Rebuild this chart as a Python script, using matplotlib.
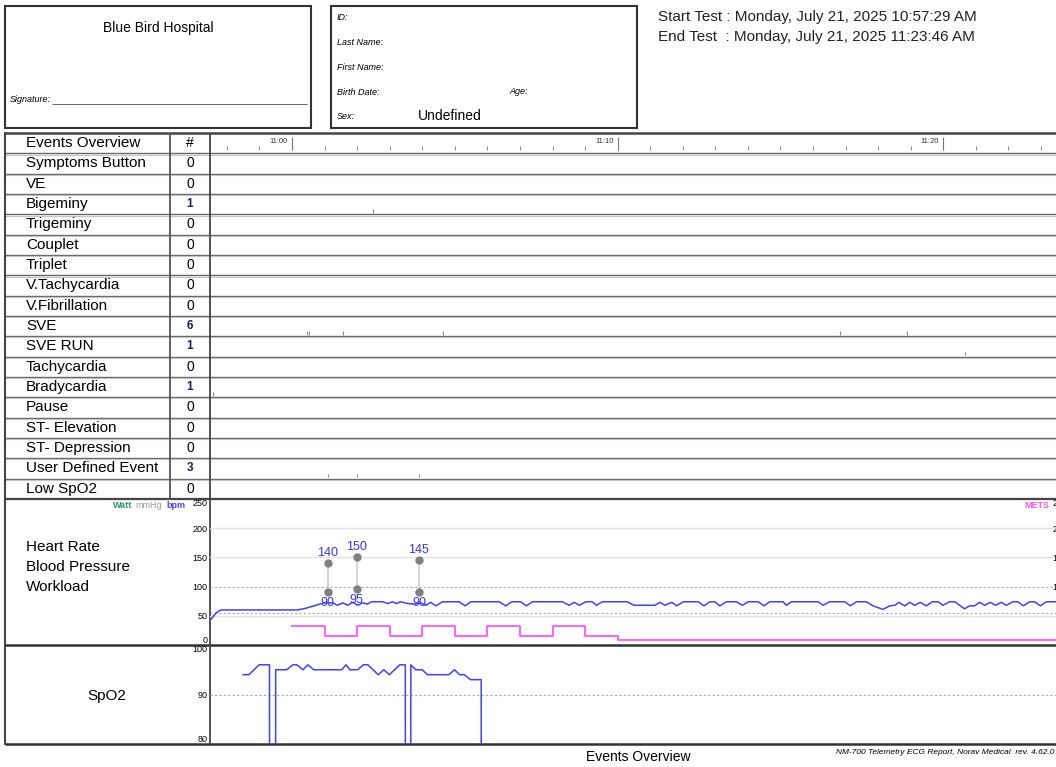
import numpy as np
import matplotlib
matplotlib.use('Agg')
import matplotlib.pyplot as plt
from matplotlib.patches import Rectangle

plt.rcParams['font.family'] = ['Liberation Sans', 'DejaVu Sans']

W, H = 1056, 767

# report header
hospital = 'Blue Bird Hospital'
start_test = 'Monday, July 21, 2025 10:57:29 AM'
end_test = 'Monday, July 21, 2025 11:23:46 AM'
patient_fields = ['ID:', 'Last Name:', 'First Name:', 'Birth Date:', 'Sex:']
sex = 'Undefined'

# time axis in minutes relative to 11:00
t_start = -(2 + 31 / 60)
t_end = 23 + 46 / 60
major_ticks = [0, 10, 20]
major_labels = ['11:00', '11:10', '11:20']

# events table
event_names = ['Symptoms Button', 'VE', 'Bigeminy', 'Trigeminy', 'Couplet', 'Triplet',
               'V.Tachycardia', 'V.Fibrillation', 'SVE', 'SVE RUN', 'Tachycardia',
               'Bradycardia', 'Pause', 'ST- Elevation', 'ST- Depression',
               'User Defined Event', 'Low SpO2']
event_counts = [0, 0, 1, 0, 0, 0, 0, 0, 6, 1, 0, 1, 0, 0, 0, 3, 0]
bigeminy_t = [2.48]
sve_t = [0.46, 0.52, 1.56, 4.63, 16.84, 18.87]
sve_run_t = [20.67]
brady_t = [-2.42]
user_t = [1.10, 1.99, 3.90]

# heart rate (bpm)
hr_t = [-2.50, -2.33, -2.18, 0.17, 0.43, 0.74, 0.98, 1.25, 1.40, 1.56, 1.71, 1.86, 2.02,
        2.17, 2.32, 2.44, 2.78, 2.94, 3.09, 3.21, 3.34, 3.55, 3.75, 3.96, 4.11, 4.26,
        4.42, 4.62, 5.13, 5.32, 5.49, 6.36, 6.56, 6.75, 7.02, 7.20, 7.38, 8.30, 8.51,
        8.66, 8.83, 9.02, 9.22, 9.35, 9.53, 10.30, 10.50, 11.14, 11.30, 11.45, 11.66,
        11.81, 12.02, 12.48, 12.65, 12.83, 12.98, 13.14, 13.34, 13.65, 13.83, 14.01,
        14.32, 14.49, 14.67, 15.08, 15.18, 15.34, 16.16, 16.31, 16.51, 16.97, 17.15,
        17.33, 17.64, 17.84, 18.15, 18.35, 18.51, 18.64, 18.81, 18.97, 19.12, 19.29,
        19.48, 19.66, 19.84, 19.99, 20.19, 20.35, 20.65, 20.81, 20.96, 21.11, 21.27,
        21.44, 21.60, 21.78, 21.93, 22.14, 22.29, 22.46, 22.65, 22.80, 22.98, 23.16,
        23.77]
hr_v = [43, 55, 60, 60, 63, 68, 72, 72, 68, 72, 68, 73, 68,
        72, 70, 74, 74, 71, 74, 71, 74, 71, 70, 72, 68, 73,
        67, 74, 74, 67, 74, 74, 67, 74, 74, 67, 74, 74, 68,
        73, 68, 74, 74, 68, 74, 74, 68, 68, 73, 68, 73,
        67, 74, 74, 67, 74, 74, 67, 74, 74, 68, 74,
        74, 67, 74, 74, 68, 74, 74, 68, 74, 74, 67,
        74, 74, 67, 61, 67, 68, 73, 67, 73, 68, 73,
        67, 74, 74, 68, 74, 74, 62, 67, 67, 73, 68,
        73, 68, 73, 68, 74, 74, 67, 74, 74, 67, 74,
        74]

# blood pressure (mmHg)
bp_t = [1.10, 1.99, 3.90]
bp_sys = [140, 150, 145]
bp_dia = [90, 95, 90]

# workload (METS)
mets_t = [0, 1, 2, 3, 4, 5, 6, 7, 8, 9, 10, t_end]
mets_v = [3.2, 1.6, 3.2, 1.6, 3.2, 1.6, 3.2, 1.6, 3.2, 1.6, 0.8, 0.8]

# SpO2 (%), 0 = no reading
spo2_t = [-1.50, -1.32, -1.01, -0.69, -0.68, -0.51, -0.50, -0.16, 0.03, 0.15, 0.34, 0.49,
          0.67, 1.53, 1.66, 1.78, 2.02, 2.19, 2.33, 2.65, 2.82, 2.99, 3.31, 3.48, 3.49,
          3.64, 3.65, 3.80, 4.00, 4.16, 4.82, 4.99, 5.15, 5.29, 5.48, 5.81, 5.82]
spo2_v = [94, 94, 96, 96, 0, 0, 95, 95, 96, 96, 95, 96,
          95, 95, 96, 95, 95, 96, 96, 94, 95, 94, 96, 96, 0,
          0, 96, 95, 95, 94, 94, 95, 94, 94, 93, 93, 0]

event_marks = {'Bigeminy': bigeminy_t, 'SVE': sve_t, 'SVE RUN': sve_run_t,
               'Bradycardia': brady_t, 'User Defined Event': user_t}

# layout in pixels
X_L, X_NUM, X_TL, X_R = 5, 170, 210, 1066
Y_TAB = 133
ROW_H = 20.33
N_ROWS = len(event_names) + 1
Y_HR = Y_TAB + N_ROWS * ROW_H
Y_SP = 645
Y_BOT = 744

BLUE = '#4040ff'
MAGENTA = '#ff55ff'


def rect(x0, y0, x1, y1):
    return [x0 / W, 1 - y1 / H, (x1 - x0) / W, (y1 - y0) / H]


fig = plt.figure(figsize=(W / 100, H / 100), dpi=100)
bg = fig.add_axes([0, 0, 1, 1])
bg.set_xlim(0, W)
bg.set_ylim(H, 0)
bg.axis('off')


def line(xs, ys, lw=1.5, c='#444444'):
    bg.plot(xs, ys, color=c, lw=lw, solid_capstyle='butt')


# header boxes
bg.add_patch(Rectangle((5, 6), 306, 122, fill=False, lw=1.5, ec='#333333'))
bg.add_patch(Rectangle((331, 6), 306, 122, fill=False, lw=1.5, ec='#333333'))
bg.text(158, 28, hospital, ha='center', va='center', fontsize=10)
bg.text(10, 100, 'Signature:', ha='left', va='center', fontsize=6.5, style='italic')
line([52, 307], [104, 104], lw=0.7, c='#666666')
for i, f in enumerate(patient_fields):
    bg.text(337, 18 + i * 24.7, f, ha='left', va='center', fontsize=6.5, style='italic')
bg.text(509, 92, 'Age:', ha='left', va='center', fontsize=6.5, style='italic')
bg.text(418, 116, sex, ha='left', va='center', fontsize=10)
bg.text(658, 17, 'Start Test : ' + start_test, ha='left', va='center', fontsize=11, color='#222222')
bg.text(658, 37, 'End Test  : ' + end_test, ha='left', va='center', fontsize=11, color='#222222')

# table grid
line([X_L, W], [Y_TAB - 0.5, Y_TAB - 0.5], lw=1.8, c='#444444')
for k in range(1, N_ROWS):
    y = Y_TAB + k * ROW_H
    line([X_L, W], [y, y], lw=1.0, c='#666666')
    line([X_L, W], [y + 1.2, y + 1.2], lw=0.8, c='#c4c4c4')
line([X_L, W], [Y_HR, Y_HR], lw=1.6, c='#444444')
line([X_L, W], [Y_SP, Y_SP], lw=1.8, c='#333333')
line([X_L, W], [Y_BOT, Y_BOT], lw=1.8, c='#333333')
line([X_L, X_L], [Y_TAB - 1, Y_BOT + 1], lw=1.5, c='#444444')
line([X_NUM, X_NUM], [Y_TAB, Y_HR], lw=1.3, c='#555555')
line([X_TL, X_TL], [Y_TAB, Y_BOT], lw=1.3, c='#444444')

bg.text(26, Y_TAB + 0.5 * ROW_H, 'Events Overview', ha='left', va='center', fontsize=11)
bg.text(190, Y_TAB + 0.5 * ROW_H, '#', ha='center', va='center', fontsize=10)
for i, (name, n) in enumerate(zip(event_names, event_counts)):
    yc = Y_TAB + (i + 1.5) * ROW_H
    bg.text(26, yc, name, ha='left', va='center', fontsize=11)
    if n:
        bg.text(190, yc, str(n), ha='center', va='center', fontsize=8.5,
                fontweight='bold', color='#1c1c60')
    else:
        bg.text(190, yc, str(n), ha='center', va='center', fontsize=10)

# panel labels
for i, lab in enumerate(['Heart Rate', 'Blood Pressure', 'Workload']):
    bg.text(26, 547 + i * 20, lab, ha='left', va='center', fontsize=11)
bg.text(107, 696, 'SpO2', ha='center', va='center', fontsize=11)
bg.text(113, 506, 'Watt', ha='left', va='center', fontsize=6.5, fontweight='bold', color='#2e9960')
bg.text(135, 506, 'mmHg', ha='left', va='center', fontsize=6.5, color='#9a9a9a')
bg.text(166, 506, 'bpm', ha='left', va='center', fontsize=6.5, fontweight='bold', color='#4a4aff')
bg.text(1049, 506, 'METS', ha='right', va='center', fontsize=6.5, fontweight='bold', color=MAGENTA)

# footer
bg.text(638, 757, 'Events Overview', ha='center', va='center', fontsize=10)
bg.text(836, 752, 'NM-700 Telemetry ECG Report, Norav Medical  rev. 4.62.0', ha='left',
        va='center', fontsize=6, style='italic')

# events timeline
ev = fig.add_axes(rect(X_TL, Y_TAB, X_R, Y_HR), facecolor='none')
ev.set_xlim(t_start, t_end)
ev.set_ylim(N_ROWS, 0)
ev.axis('off')
ev.vlines(np.arange(-2, 24), 0.62, 0.84, color='#777777', lw=0.6)
ev.vlines(major_ticks, 0.18, 0.84, color='#777777', lw=0.8)
for t, lab in zip(major_ticks, major_labels):
    ev.annotate(lab, (t, 0.42), xytext=(-3, 0), textcoords='offset points',
                ha='right', va='center', fontsize=5.5, color='#333333')
for i, name in enumerate(event_names):
    marks = event_marks.get(name, [])
    if marks:
        ev.vlines(marks, i + 1.76, i + 1.94, color='#8a8a8a', lw=0.8)

# heart rate / blood pressure / workload
hr = fig.add_axes(rect(X_TL, Y_HR, X_R, Y_SP), facecolor='none')
hr.set_xlim(t_start, t_end)
hr.set_ylim(0, 250)
for y in [50, 150, 200]:
    hr.axhline(y, color='#e2e2e2', lw=1.0)
for y in [55, 100]:
    hr.axhline(y, color='#a8a8a8', lw=0.8, ls=(0, (2, 2)))
hr.plot(hr_t, hr_v, color=BLUE, lw=1.1, zorder=3)
hr.vlines(bp_t, bp_dia, bp_sys, color='#cccccc', lw=1.2, zorder=4)
hr.plot(bp_t, bp_sys, 'o', color='#808080', ms=5, zorder=5)
hr.plot(bp_t, bp_dia, 'o', color='#808080', ms=5, zorder=5)
for t, s, d in zip(bp_t, bp_sys, bp_dia):
    hr.annotate(str(s), (t, s), xytext=(0, 3), textcoords='offset points',
                ha='center', va='bottom', fontsize=9, color='#3333ff', zorder=6)
    hr.annotate(str(d), (t, d), xytext=(0, -3.5), textcoords='offset points',
                ha='center', va='top', fontsize=9, color='#3333ff', zorder=6)
hr.set_yticks(range(0, 251, 50))
hr.set_xticks([])
hr.tick_params(axis='y', length=0, labelsize=6.5, pad=2)
for s in hr.spines.values():
    s.set_visible(False)
hr.get_yticklabels()[-1].set_va('top')
hr.get_yticklabels()[0].set_va('bottom')

mets = hr.twinx()
mets.set_ylim(0, 25)
mets.step(mets_t, mets_v, where='post', color=MAGENTA, lw=1.3)
mets.set_yticks(range(0, 26, 5))
mets.tick_params(axis='y', length=0, labelsize=6.5, pad=-2.3)
plt.setp(mets.get_yticklabels(), ha='right')
mets.get_yticklabels()[-1].set_va('top')
for s in mets.spines.values():
    s.set_visible(False)

# SpO2
sp = fig.add_axes(rect(X_TL, Y_SP, X_R, Y_BOT), facecolor='none')
sp.set_xlim(t_start, t_end)
sp.set_ylim(80, 100)
sp.axhline(90, color='#a8a8a8', lw=0.8, ls=(0, (2, 2)))
sp.plot(spo2_t, spo2_v, color=BLUE, lw=1.1)
sp.set_yticks([80, 90, 100])
sp.set_xticks([])
sp.tick_params(axis='y', length=0, labelsize=6.5, pad=2)
for s in sp.spines.values():
    s.set_visible(False)
sp.get_yticklabels()[-1].set_va('top')
sp.get_yticklabels()[0].set_va('bottom')

fig.savefig('out.png', dpi=100)
